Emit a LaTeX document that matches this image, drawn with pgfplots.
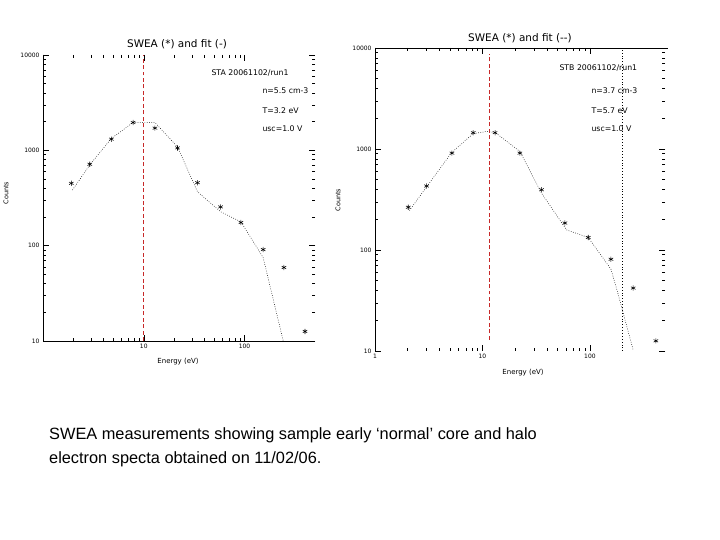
\documentclass[border=0pt]{standalone}
\usepackage{fontspec}
\setmainfont{Liberation Sans}
\newfontfamily\chartfont{DejaVu Sans}
\usepackage{xcolor}
\usepackage{pgfplots}
\usepackage{pgfplotstable}
\pgfplotsset{compat=1.18}
\definecolor{redline}{rgb}{0.78,0.16,0.16}
\pgfplotstableread{
E C
1.91 451
2.91 715
4.77 1310
7.83 1960
12.9 1710
21.6 1060
34.1 458
57.8 255
92 175
153 91
246 59
398 12.6
}\leftdata
\pgfplotstableread{
E C
1.96 383
2.91 703
4.77 1333
7.83 1960
12.9 1960
21.6 1086
34.1 368
57.8 227
92 178
153 75
242 10
}\leftfit
\pgfplotstableread{
E C
2.04 265
3.02 430
5.2 910
8.2 1450
13.1 1450
22.3 910
35.5 395
58.5 185
96.5 133
157 81
253 42
411 12.6
}\rightdata
\pgfplotstableread{
E C
2.09 246
3.02 421
5.18 924
8.2 1420
10.9 1490
13.1 1460
22.3 946
35.5 365
60.7 158
96.5 133
157 64.6
180 39
204 23.8
253 10.2
}\rightfit
\begin{document}
\begin{tikzpicture}
\useasboundingbox (0,0) rectangle (720bp,540bp);
% Left panel
\begin{axis}[xmode=log, ymode=log, scale only axis,
    xmin=1, xmax=500, ymin=10, ymax=10000,
    tick align=inside, major tick length=6bp, minor tick length=3bp,
    tick style={black, line width=0.4pt},
    axis line style={draw=none},
    ticklabel style={font=\chartfont\fontsize{6}{7}\selectfont},
    ytick={10,100,1000,10000}, yticklabels={10,100,1000,10000},
    xtick={1,10,100}, xticklabels={,10,100},
    clip=false,
    at={(43bp,199bp)}, anchor=south west, width=272bp, height=286bp]
\addplot[draw=black, line width=0.5pt, dash pattern=on 0.7pt off 1.6pt, no marks] table[x=E,y=C] {\leftfit};
\addplot[draw=black, only marks, mark=asterisk, mark size=2.6bp, mark options={draw=black, line width=0.55pt, solid}] table[x=E,y=C] {\leftdata};
\addplot[draw=redline, line width=0.8pt, dash pattern=on 4pt off 2.5pt, no marks] coordinates {(10,10) (10,10000)};
\end{axis}
\draw[line width=0.5pt] (43bp,485bp) -- (43bp,199bp) -- (315bp,199bp);
\node[font=\chartfont\fontsize{10.5}{12}\selectfont] at (177bp,496bp) {SWEA (*) and fit (-)};
\node[font=\chartfont\fontsize{7}{8}\selectfont] at (178bp,178bp) {Energy (eV)};
\node[font=\chartfont\fontsize{6.5}{8}\selectfont, rotate=90] at (6bp,347bp) {Counts};
\node[font=\chartfont\fontsize{7.8}{9}\selectfont, anchor=west] at (208bp,467bp) {STA 20061102/run1};
\node[font=\chartfont\fontsize{7.8}{9}\selectfont, anchor=west] at (259bp,449bp) {n=5.5 cm-3};
\node[font=\chartfont\fontsize{7.8}{9}\selectfont, anchor=west] at (259bp,429bp) {T=3.2 eV};
\node[font=\chartfont\fontsize{7.8}{9}\selectfont, anchor=west] at (259bp,411bp) {usc=1.0 V};
% Right panel
\begin{axis}[xmode=log, ymode=log, scale only axis,
    xmin=1, xmax=500, ymin=10, ymax=10000,
    tick align=inside, major tick length=6bp, minor tick length=3bp,
    tick style={black, line width=0.4pt},
    axis line style={draw=none},
    ticklabel style={font=\chartfont\fontsize{6}{7}\selectfont},
    ytick={10,100,1000,10000}, yticklabels={10,100,1000,10000},
    xtick={1,10,100}, xticklabels={1,10,100},
    clip=false,
    at={(375bp,189bp)}, anchor=south west, width=290bp, height=303bp]
\addplot[draw=black, line width=0.5pt, dash pattern=on 0.7pt off 1.6pt, no marks] table[x=E,y=C] {\rightfit};
\addplot[draw=black, only marks, mark=asterisk, mark size=2.6bp, mark options={draw=black, line width=0.55pt, solid}] table[x=E,y=C] {\rightdata};
\addplot[draw=redline, line width=0.8pt, dash pattern=on 4pt off 2.5pt, no marks] coordinates {(11.6,12.9) (11.6,8700)};
\addplot[draw=black, line width=0.6pt, dash pattern=on 0.7pt off 2.2pt, no marks] coordinates {(201,10) (201,10000)};
\end{axis}
\draw[line width=0.5pt] (375bp,189bp) -- (375bp,492bp) -- (668bp,492bp);
\node[font=\chartfont\fontsize{10.5}{12}\selectfont] at (520bp,502bp) {SWEA (*) and fit (--)};
\node[font=\chartfont\fontsize{7}{8}\selectfont] at (523bp,167bp) {Energy (eV)};
\node[font=\chartfont\fontsize{6.5}{8}\selectfont, rotate=90] at (338bp,340bp) {Counts};
\node[font=\chartfont\fontsize{7.8}{9}\selectfont, anchor=west] at (556bp,472bp) {STB 20061102/run1};
\node[font=\chartfont\fontsize{7.8}{9}\selectfont, anchor=west] at (588bp,449bp) {n=3.7 cm-3};
\node[font=\chartfont\fontsize{7.8}{9}\selectfont, anchor=west] at (588bp,429bp) {T=5.7 eV};
\node[font=\chartfont\fontsize{7.8}{9}\selectfont, anchor=west] at (588bp,411bp) {usc=1.0 V};
% Caption
\node[anchor=base west, font=\fontsize{16.4}{20}\selectfont, inner sep=0pt] at (49bp,100bp) {SWEA measurements showing sample early ‘normal’ core and halo};
\node[anchor=base west, font=\fontsize{16.4}{20}\selectfont, inner sep=0pt] at (49bp,76bp) {electron specta obtained on 11/02/06.};
\end{tikzpicture}
\end{document}
